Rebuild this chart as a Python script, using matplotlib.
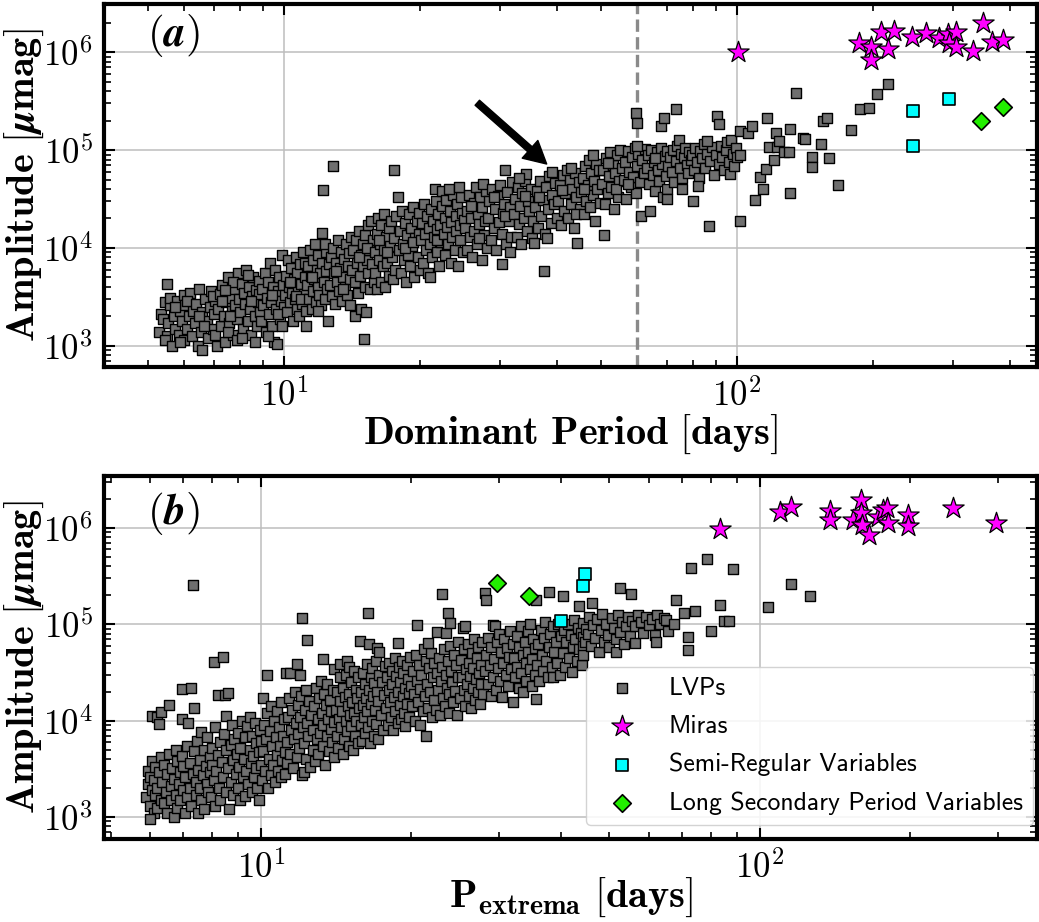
import numpy as np
import matplotlib
matplotlib.use("Agg")
import matplotlib.pyplot as plt
from matplotlib.ticker import FuncFormatter, NullFormatter, LogLocator

plt.rcParams['mathtext.fontset'] = 'cm'
plt.rcParams['font.family'] = 'cmr10'
plt.rcParams['axes.unicode_minus'] = False

# ---- panel (a): dominant period [days], amplitude [umag] ----
lvp_a = [
    (5.3,1400),(5.35,2100),(5.4,1900),(5.45,2800),(5.5,4300),(5.5,1250),(5.55,1700),(5.6,2600),(5.45,1150),(5.6,3100),
    (5.65,1000),(5.7,2000),(5.75,1500),(5.8,2900),(5.85,1300),(5.9,2300),(5.95,1800),(6.0,3300),(6.0,1150),(6.05,2600),
    (6.1,1500),(6.15,2000),(6.2,3500),(6.25,1250),(6.3,2300),(5.75,2500),(5.9,1100),(6.1,2900),
    (6.35,1700),(6.4,2700),(6.45,1000),(6.5,3800),(6.55,1400),(6.6,2200),(6.6,900),(6.7,3000),(6.75,1800),(6.8,1200),
    (6.85,2500),(6.9,3600),(6.95,1500),(7.0,2100),(7.05,2900),(7.1,1000),(6.5,2000),(6.65,1600),(6.95,3200),(7.05,1300),
    (7.15,2400),(7.2,3400),(7.25,1600),(7.3,4200),(7.35,2000),(7.4,1100),(7.45,2800),(7.5,5000),(7.55,1700),(7.6,3100),
    (7.65,2300),(7.7,1300),(7.75,3800),(7.8,2600),(7.85,1900),(7.9,5600),(7.3,2900),(7.5,1400),(7.7,4500),(7.85,1150),
    (7.4,3700),(7.6,2000),
    (7.95,3000),(8.0,2200),(8.05,4300),(8.1,1500),(8.15,3500),(8.2,2700),(8.25,6000),(8.3,1800),(8.35,4000),(8.4,2400),
    (8.45,1300),(8.5,3200),(8.55,5000),(8.6,2000),(8.65,3700),(8.7,1600),(8.75,2800),(8.8,4600),(8.85,2200),(8.05,1200),
    (8.3,5300),(8.6,1100),(8.8,3400),(8.45,2900),
    (8.9,1800),(8.95,3800),(9.0,2600),(9.05,5500),(9.1,1400),(9.15,3100),(9.2,4500),(9.25,2100),(9.3,7000),(9.35,2800),
    (9.4,1600),(9.45,4000),(9.5,1100),(9.5,3300),(9.55,6000),(9.6,2400),(9.65,1050),(9.7,3600),(9.75,5000),(9.8,1900),
    (9.85,2900),(9.9,8500),(9.95,4200),(10.0,2500),(9.2,1250),(9.4,3300),(9.7,2100),(9.9,1600),
    (10.05,3300),(10.1,5200),(10.15,2200),(10.2,7500),(10.25,4000),(10.3,2800),(10.35,6200),(10.4,3500),(10.45,1800),
    (10.5,4800),(10.55,3000),(10.6,8000),(10.65,2400),(10.7,5600),(10.75,3800),(10.8,2000),(10.85,6800),(10.9,4300),
    (10.95,2700),(11.0,9000),(11.05,3400),(11.1,5000),(11.15,2300),(11.2,1600),(10.3,4500),(10.6,3200),(10.9,3000),(11.1,7000),
    (11.25,4200),(11.3,6500),(11.35,3000),(11.4,9500),(11.45,5200),(11.5,2400),(11.55,7600),(11.6,3600),(11.65,4800),
    (11.7,11000),(11.75,2800),(11.8,6000),(11.85,4000),(11.9,8500),(11.95,3300),(12.0,5500),(12.05,2600),(12.1,14200),
    (12.15,7000),(12.2,39000),(12.25,4500),(12.3,3000),(12.35,9000),(12.4,5800),(12.45,3800),(12.5,1800),(12.55,6800),
    (11.5,5000),(11.9,2300),(12.3,11000),(12.8,68000),
    (12.65,4200),(12.7,8000),(12.75,3200),(12.85,10000),(12.9,5500),(12.95,2700),(13.0,7000),(13.1,4500),(13.15,12000),
    (13.2,3600),(13.3,6200),(13.35,9000),(13.4,2900),(13.5,5000),(13.55,7800),(13.6,4000),(13.7,11000),(13.75,3300),
    (13.8,6500),(13.9,8800),(13.95,4800),(14.0,2600),(14.05,13000),(13.0,5800),(13.5,3800),
    (14.15,6000),(14.2,9500),(14.3,2000),(14.35,4500),(14.4,12000),(14.5,7000),(14.55,3500),(14.6,15000),(14.7,5200),
    (14.75,8500),(14.8,2400),(14.9,11000),(14.95,6500),(15.0,1180),(15.05,4000),(15.1,13500),(15.15,2200),(15.2,7500),
    (15.3,17000),(15.35,5500),(15.4,9500),(15.5,3800),(15.55,19000),(15.6,6800),(15.7,12000),(15.75,4500),(14.6,8000),(15.2,10000),
    (15.85,9000),(15.9,5500),(16.0,14000),(16.05,3800),(16.1,20000),(16.2,7500),(16.3,11000),(16.35,4500),(16.4,17000),
    (16.5,6500),(16.6,9500),(16.65,22000),(16.7,4000),(16.8,13000),(16.9,7000),(17.0,16000),(17.05,5200),(17.1,10500),
    (17.2,19000),(17.3,8000),(17.4,4800),(17.5,62000),(17.5,12500),(17.6,6000),(17.7,21000),(17.8,33000),(16.2,12000),(16.9,9000),
    (17.9,9500),(18.0,15000),(18.1,5500),(18.2,24000),(18.3,11000),(18.4,7500),(18.5,18000),(18.6,4500),(18.7,13500),
    (18.8,8500),(18.9,22000),(19.0,6500),(19.1,16000),(19.2,10500),(19.3,26000),(19.4,5000),(19.5,12500),(19.6,19000),
    (19.7,8000),(19.8,14000),(19.9,23000),(20.0,6000),(18.5,10000),(19.3,11500),
    (20.1,12000),(20.2,18000),(20.3,7000),(20.4,28000),(20.5,14000),(20.6,9500),(20.7,21000),(20.8,5500),(20.9,16000),
    (21.0,11000),(21.1,25000),(21.2,8000),(21.3,19000),(21.4,13000),(21.5,40000),(21.6,30000),(21.7,9000),(21.8,15500),
    (21.9,22000),(22.0,6500),(22.1,17000),(22.2,11500),(22.3,27000),(22.35,38000),(21.0,5000),(21.8,12000),
    (22.5,14000),(22.6,20000),(22.7,8500),(22.8,31000),(22.9,16500),(23.0,11000),(23.2,24000),(23.3,7000),(23.4,18500),
    (23.5,13000),(23.6,35000),(23.8,9500),(23.9,21000),(24.0,15000),(24.1,28000),(24.2,6500),(24.4,17000),(24.5,12000),
    (24.6,33000),(24.7,23000),(24.8,9000),(24.9,19500),(23.1,40000),(24.3,42000),
    (25.1,16000),(25.3,24000),(25.4,9500),(25.6,35000),(25.7,13000),(25.9,20000),(26.0,8000),(26.2,29000),(26.3,15000),
    (26.5,42000),(26.6,11000),(26.8,22000),(27.0,17500),(27.1,33000),(27.3,7500),(27.4,26000),(27.6,13500),(27.7,19000),
    (27.9,38000),(28.0,10000),(25.8,27000),(26.9,12500),(27.5,45000),
    (28.2,20000),(28.4,30000),(28.6,12000),(28.8,40000),(29.0,16000),(29.2,25000),(29.4,9500),(29.6,34000),(29.8,18500),
    (30.0,44000),(30.2,14000),(30.3,6900),(30.4,23000),(30.6,28000),(30.7,62000),(30.9,11000),(31.1,37000),(31.3,19000),
    (31.5,26000),(31.7,13000),(31.9,47000),(29.0,33000),(30.8,21000),(31.6,9000),
    (32.2,22000),(32.4,32000),(32.6,13000),(32.8,42000),(33.0,17500),(33.2,27000),(33.4,11000),(33.6,36000),(33.8,20000),
    (34.0,48000),(34.2,57000),(34.4,15000),(34.6,30000),(34.8,24000),(35.0,40000),(35.2,12500),(35.4,19000),(35.6,11300),
    (33.0,52000),(34.0,34000),
    (35.8,26000),(36.1,38000),(36.4,16000),(36.7,48000),(37.0,21000),(37.3,31000),(37.5,5800),(37.6,14000),(37.9,42000),
    (38.2,25000),(38.5,54000),(38.8,18000),(39.1,35000),(39.4,28000),(39.7,46000),(40.0,20000),(36.5,33000),(38.0,12500),(39.0,60000),
    (40.3,30000),(40.6,44000),(40.9,17000),(41.2,55000),(41.5,24000),(41.8,36000),(42.1,62000),(42.4,20000),(42.7,50000),
    (43.0,28000),(43.3,40000),(43.6,16000),(43.9,58000),(44.2,33000),(44.4,11200),(44.7,47000),(45.0,25000),(41.0,39000),
    (43.0,65000),(44.0,22000),
    (45.3,37000),(45.6,52000),(45.9,22000),(46.2,68000),(46.5,30000),(46.8,44000),(47.1,80000),(47.4,26000),(47.7,58000),
    (48.0,35000),(48.3,48000),(48.6,19000),(48.9,72000),(49.2,40000),(49.5,62000),(49.8,29000),(46.0,40000),(48.0,90000),
    (50.3,45000),(50.6,62000),(50.8,13700),(51.1,28000),(51.4,82000),(51.8,36000),(52.1,54000),(52.5,95000),(52.8,42000),
    (53.2,70000),(53.5,25000),(53.9,58000),(54.2,88000),(54.6,33000),(55.0,48000),(55.3,100000),(55.7,65000),(52.0,74000),(54.0,40000),
    (56.2,50000),(56.6,75000),(57.0,32000),(57.4,98000),(57.8,60000),(58.2,42000),(58.6,85000),(59.0,53000),(59.4,105000),
    (59.7,240000),(60.3,190000),(59.8,36000),(60.2,68000),(60.6,92000),(61.0,47000),(61.4,21000),(61.8,80000),(62.2,58000),
    (62.6,102000),(57.5,45000),(60.0,110000),
    (63.2,66000),(63.6,88000),(64.0,45000),(64.3,24000),(64.7,100000),(65.2,55000),(65.6,76000),(66.0,38000),(66.5,95000),
    (67.0,62000),(67.4,48000),(67.8,105000),(68.0,174000),(68.3,72000),(68.7,33000),(69.0,210000),(69.2,86000),(69.7,54000),
    (70.2,98000),(70.6,68000),(66.0,82000),(70.0,40000),
    (71.2,85000),(71.7,60000),(72.2,100000),(72.7,47000),(73.2,78000),(73.5,260000),(73.8,110000),(74.3,128000),(74.7,66000),
    (75.2,92000),(75.8,52000),(76.3,84000),(76.9,104000),(77.4,70000),(78.0,58000),(78.5,96000),(79.0,80000),(79.8,30000),
    (70.0,32000),(75.5,40000),
    (79.5,90000),(80.2,62000),(80.9,105000),(81.6,75000),(82.3,52000),(83.0,98000),(83.8,82000),(84.5,115000),(85.2,66000),
    (86.0,92000),(86.7,16600),(87.4,78000),(88.2,108000),(89.0,56000),(82.0,43000),(85.8,125000),
    (89.8,90000),(90.5,220000),(91.5,185000),(91.2,72000),(92.0,110000),(92.8,84000),(93.6,62000),(94.4,100000),(95.2,120000),
    (96.0,76000),(96.6,57500),(97.0,126000),(97.8,92000),(98.6,68000),(99.4,105000),(100.2,85000),
    (101.7,19000),(101.5,88000),(101.7,158000),(106,150000),(108,178000),(109.7,31000),(114,40000),(112.6,53000),(116,64600),
    (120.5,78500),(117.5,107000),(122.5,107000),(126.8,95000),(130,95000),(116.5,210000),(122,149000),(124,124000),(131,163000),
    (131,36000),(140,132000),(141,130000),(135,380000),(146.6,85000),(146.6,67000),(153.4,114000),(155,200000),(158,210000),
    (159.6,83000),(166.8,43600),(178.6,162000),(186.6,260000),(196,270000),(203.7,376000),(215.8,475000),
]
mira_a = [(100.3,1.0e6),(186,1.23e6),(198,1.13e6),(198,8.4e5),(208,1.59e6),(222.6,1.64e6),(215.6,1.07e6),
          (244,1.43e6),(261.5,1.55e6),(280,1.38e6),(292.5,1.52e6),(305,1.61e6),(293.5,1.23e6),(305,1.13e6),
          (333,1.03e6),(349,1.99e6),(366,1.27e6),(387,1.33e6)]
srv_a = [(244.8,2.5e5),(293.5,3.31e5),(244.8,1.1e5)]
lsp_a = [(346.5,1.99e5),(386,2.73e5)]

# ---- panel (b): P_extrema [days], amplitude [umag] ----
lvp_b = [
    (5.9,1600),(5.95,2200),(5.95,3000),(6.0,1300),(6.0,2600),(6.05,1900),(6.05,3800),(6.1,1100),(6.1,2400),(6.15,1700),
    (6.15,3300),(6.2,2000),(6.2,1250),(6.25,2900),(6.3,1500),(6.3,4200),(6.04,11200),(6.2,11000),(6.25,9300),(6.3,12300),(6.0,950),
    (6.35,2300),(6.4,1400),(6.4,3500),(6.45,1800),(6.5,2800),(6.5,1100),(6.55,4500),(6.55,14500),(6.6,2100),(6.6,1500),
    (6.65,3200),(6.7,1000),(6.7,2500),(6.75,5000),(6.75,1700),(6.8,3800),(6.8,1250),(6.85,2200),(6.9,2900),(6.9,1500),
    (6.95,4300),(6.95,21500),(6.95,10500),(7.0,1900),(7.0,3400),(7.05,1100),(7.05,2600),(7.1,5500),(7.1,1600),
    (7.15,9500),(7.2,2000),(7.2,3600),(7.24,22000),(7.25,1300),(7.3,256000),(7.3,2800),(7.35,13600),(7.35,4800),(7.4,1700),
    (7.4,2300),(7.45,6200),(7.5,3100),(7.5,1100),(7.55,3900),(7.55,2000),(7.6,7600),(7.6,1500),(7.65,2700),(7.7,5000),
    (7.7,1200),(7.75,3400),(7.8,2200),(7.8,6800),(7.85,1800),(7.9,4200),(7.9,2900),
    (7.95,1600),(8.0,3500),(8.0,5200),(8.05,2400),(8.07,41000),(8.1,1300),(8.1,8500),(8.15,3000),(8.2,18600),(8.2,4400),
    (8.25,2000),(8.3,6000),(8.3,1500),(8.35,3700),(8.4,46000),(8.4,2600),(8.45,7200),(8.47,18600),(8.5,1800),(8.5,4900),
    (8.53,11200),(8.6,19500),(8.6,3200),(8.65,1200),(8.7,5600),(8.7,2300),(8.75,9000),(8.8,3900),(8.8,1700),(8.85,6500),(8.9,2800),
    (8.95,4500),(9.0,2000),(9.0,7500),(9.05,3300),(9.1,1500),(9.1,5200),(9.15,10000),(9.2,2600),(9.25,4000),(9.3,1650),
    (9.3,6800),(9.35,3000),(9.4,8800),(9.45,2200),(9.5,5000),(9.5,11000),(9.55,3600),(9.6,1800),(9.6,7000),(9.65,4300),
    (9.7,2600),(9.75,9500),(9.8,3200),(9.8,5800),(9.85,2000),(9.9,1500),(9.9,4700),(9.95,8000),(10.0,3500),(10.0,6200),
    (10.05,2400),(10.1,17000),(10.1,4800),(10.15,9000),(10.2,3000),(10.25,6500),(10.3,30000),(10.3,12000),(10.35,2000),
    (10.4,4000),(10.45,7800),(10.5,2700),(10.5,14000),(10.55,5400),(10.6,3500),(10.65,10000),(10.7,2300),(10.75,6800),
    (10.8,4400),(10.8,12500),(10.85,3000),(10.9,8500),(10.95,5500),(11.0,2600),(11.0,15500),(11.05,3900),(11.1,7000),
    (11.15,10500),(11.2,4700),(11.2,2800),
    (11.25,31000),(11.3,6000),(11.3,3600),(11.35,11000),(11.4,17000),(11.45,31000),(11.45,4500),(11.5,8000),(11.55,13000),
    (11.6,3200),(11.65,6500),(11.7,20000),(11.75,9500),(11.8,39000),(11.8,4200),(11.85,14500),(11.9,7200),(11.95,5200),
    (12.0,29500),(12.0,11000),(12.05,18000),(12.1,115000),(12.1,2700),(12.15,8500),(12.2,2950),(12.2,5800),(12.25,13000),
    (12.3,21000),(12.35,4000),(12.4,68000),(12.4,9500),(12.45,7000),(12.5,16000),(12.55,3300),(12.6,11500),
    (12.7,5000),(12.75,8000),(12.8,14000),(12.85,3800),(12.9,22000),(12.95,6500),(13.0,10500),(13.05,4500),(13.1,17000),
    (13.15,7500),(13.2,26000),(13.25,12000),(13.3,44000),(13.3,5500),(13.35,9000),(13.4,19000),(13.45,3500),(13.5,14500),
    (13.55,7000),(13.6,24000),(13.65,10500),(13.7,4800),(13.75,16500),(13.8,8200),(13.85,12500),(13.9,6000),(13.95,21000),
    (14.0,34000),(14.0,9600),(14.05,4200),
    (14.15,13000),(14.2,7000),(14.25,20000),(14.3,5200),(14.35,10500),(14.4,39000),(14.4,16000),(14.45,28000),(14.5,8500),
    (14.55,12500),(14.6,4500),(14.65,22000),(14.7,6500),(14.75,17500),(14.8,10000),(14.85,30000),(14.9,42000),(14.9,7800),
    (14.95,14000),(15.0,36000),(15.0,5500),(15.05,19000),(15.1,11500),(15.15,25000),(15.2,8800),(15.25,15500),(15.3,4900),
    (15.35,33000),(15.4,12000),(15.45,7000),(15.5,21000),(15.55,9800),(15.6,17000),(15.65,28000),(15.7,5800),(15.75,13500),
    (15.8,67000),(15.85,9000),(15.9,20000),(15.95,6200),(16.0,14500),(16.05,31000),(16.1,11000),(16.15,24000),(16.2,7500),
    (16.25,17000),(16.3,39000),(16.35,12500),(16.4,130000),(16.4,8500),(16.5,63000),(16.5,21000),(16.55,5800),(16.6,15000),
    (16.65,28000),(16.7,10000),(16.75,35000),(16.8,18000),(16.85,7000),(16.9,24500),(16.95,13000),(17.0,42000),(17.05,9200),
    (17.1,56000),(17.1,20000),(17.15,16000),(17.2,6500),(17.3,51000),(17.3,30000),(17.4,11500),(17.5,25000),(17.6,8000),
    (17.7,18500),(17.75,37000),
    (17.85,13500),(17.9,28000),(18.0,9000),(18.05,21000),(18.1,40000),(18.2,15500),(18.25,11000),(18.3,33000),(18.35,24000),
    (18.4,8000),(18.5,17500),(18.55,45000),(18.6,12500),(18.7,29000),(18.8,64000),(18.8,9500),(18.85,20000),(18.9,36000),
    (19.0,14500),(19.05,25000),(19.1,10500),(19.2,42000),(19.25,18000),(19.3,31000),(19.4,12000),(19.45,22000),(19.5,8700),
    (19.6,38000),(19.65,15000),(19.7,27000),(19.8,19500),(19.85,11000),(19.9,46000),(20.0,23000),
    (20.1,14000),(20.2,33000),(20.3,19000),(20.4,10000),(20.5,48000),(20.55,26000),(20.6,98000),(20.7,15500),(20.8,38000),
    (20.9,9100),(20.9,21500),(21.0,30000),(21.1,12500),(21.2,55000),(21.3,18000),(21.4,6900),(21.4,42000),(21.5,24000),
    (21.6,13500),(21.7,35000),(21.8,20000),(21.9,50000),(22.0,11000),(22.1,28000),(22.2,16500),(22.3,40000),
    (21.6,64500),(22.6,84000),(22.5,13000),(22.6,31000),(22.7,21000),(22.8,45000),(22.9,11500),(23.0,26000),(23.1,205000),
    (23.1,36000),(23.2,17000),(23.3,55000),(23.4,14000),(23.5,82000),(23.5,30000),(23.6,22000),(23.7,130000),(23.7,42000),
    (23.8,12000),(23.9,19000),(24.0,102000),(24.0,60000),(24.1,33000),(24.2,25000),(24.3,15500),(24.4,48000),(24.5,20500),
    (24.6,38000),(24.7,11500),(24.8,28000),(24.9,65000),
    (25.1,17000),(25.2,43000),(25.3,28000),(25.4,91000),(25.5,21000),(25.6,55000),(25.7,95000),(25.7,14000),(25.8,34000),
    (25.9,24000),(26.0,62000),(26.1,18000),(26.2,40000),(26.3,29000),(26.4,13500),(26.5,50000),(26.6,22000),(26.7,35000),
    (26.8,70000),(26.9,16500),(27.0,27000),(27.1,45000),(27.2,20000),(27.3,58000),(27.4,31000),(27.5,15000),(27.6,38000),
    (27.7,24000),(27.8,66000),(27.9,19000),
    (28.1,33000),(28.2,210000),(28.3,180000),(28.3,48000),(28.5,24000),(28.6,72000),(28.8,38000),(28.9,18000),(29.0,58000),
    (29.2,98000),(29.2,28000),(29.4,44000),(29.5,96000),(29.6,21000),(29.7,65000),(29.9,35000),(30.0,80000),(30.2,26000),
    (30.3,52000),(30.5,17500),(30.6,40000),(30.8,70000),(31.0,30000),(31.1,56000),(31.3,23000),(31.5,46000),(31.6,85000),
    (31.8,34000),(32.0,62000),
    (32.1,15500),(32.2,45000),(32.4,28000),(32.6,75000),(32.7,36000),(32.9,22000),(33.0,58000),(33.2,95000),(33.3,31000),
    (33.5,48000),(33.6,20000),(33.8,66000),(34.0,40000),(34.1,26000),(34.3,85000),(34.4,52000),(34.6,34000),(34.7,100000),
    (34.9,23000),(35.0,44000),(35.2,70000),(35.4,30000),(35.6,16600),(35.5,56000),(35.6,180000),
    (35.8,38000),(36.0,62000),(36.2,26000),(36.4,88000),(36.6,48000),(36.8,33000),(37.0,72000),(37.2,105000),(37.4,42000),
    (37.6,28000),(37.8,214000),(37.8,58000),(38.0,80000),(38.3,36000),(38.6,28600),(38.6,95000),(38.8,52000),(39.0,66000),
    (39.3,40000),(39.5,100000),(39.8,30000),(40.0,75000),
    (40.4,197000),(40.3,50000),(40.6,88000),(40.8,36000),(41.0,65000),(41.3,100000),(41.5,45000),(41.8,78000),(42.0,32000),
    (42.2,58000),(42.5,110000),(42.7,70000),(43.0,42000),(43.2,92000),(43.4,155000),(43.5,55000),(43.8,82000),(44.0,38000),
    (44.2,102000),(44.2,74000),(44.2,59000),(44.2,48000),(44.6,66000),(44.9,90000),
    (45.3,80000),(45.6,120000),(46.1,165000),(46.0,60000),(46.4,98000),(46.8,72000),(47.2,112000),(47.6,52000),(48.0,88000),
    (48.4,128000),(48.8,66000),(49.2,100000),(49.6,78000),(50.0,58000),(50.5,115000),(51.0,92000),(51.5,51000),(51.5,70000),
    (52.0,125000),(52.6,235000),(52.5,84000),(53.0,105000),(53.5,62000),(54.0,96000),(54.5,118000),(55.3,205000),(55.0,76000),
    (55.6,108000),
    (56.4,64000),(56.2,95000),(57.0,125000),(57.8,105000),(58.5,82000),(59.3,118000),(60.0,98000),(60.8,112000),(61.6,78000),
    (62.0,66000),(62.4,125000),(63.3,100000),(64.2,116000),(65.0,110000),(65.5,85000),(67.3,100000),(68.0,178000),(70.4,130000),
    (72.0,74000),(72.0,54000),(73.0,380000),(74.2,137000),(78.4,480000),(80.0,85000),(83.2,160000),(84.7,108000),(87.0,108000),
    (88.5,370000),(104,150000),(115.6,260000),(126.5,196000),
]
mira_b = [(83.2,9.7e5),(109.7,1.47e6),(115.6,1.65e6),(138.6,1.5e6),(138.6,1.2e6),(153.8,1.2e6),(159.8,1.94e6),
          (159.8,1.41e6),(160.5,1.07e6),(166,8.4e5),(173,1.3e6),(177,1.52e6),(179.9,1.59e6),(181,1.11e6),
          (198.8,1.35e6),(198,1.04e6),(244.7,1.59e6),(297.9,1.11e6)]
srv_b = [(44.6,3.31e5),(44.3,2.49e5),(40.0,1.09e5)]
lsp_b = [(29.7,2.66e5),(34.5,1.96e5)]

labels = ['LVPs', 'Miras', 'Semi-Regular Variables', 'Long Secondary Period Variables']


def decade(v, pos):
    e = np.log10(v)
    if abs(e - round(e)) < 1e-6:
        return r'$10^{%d}$' % round(e)
    return ''


def panel(ax, lvp, mira, srv, lsp, xlim, ylim):
    lvp = np.array(lvp); mira = np.array(mira); srv = np.array(srv); lsp = np.array(lsp)
    ax.scatter(lvp[:, 0], lvp[:, 1], s=42, marker='s', c='#6f6f6f', edgecolors='k', linewidths=1.0,
               zorder=3, label=labels[0])
    ax.scatter(mira[:, 0], mira[:, 1], s=260, marker='*', c='#ff00ff', edgecolors='k', linewidths=0.9,
               zorder=4, label=labels[1])
    ax.scatter(srv[:, 0], srv[:, 1], s=80, marker='s', c='#00ffff', edgecolors='k', linewidths=1.2,
               zorder=4, label=labels[2])
    ax.scatter(lsp[:, 0], lsp[:, 1], s=80, marker='D', c='#22ee00', edgecolors='k', linewidths=1.2,
               zorder=4, label=labels[3])
    ax.set_xscale('log')
    ax.set_yscale('log')
    ax.set_xlim(*xlim)
    ax.set_ylim(*ylim)
    ax.xaxis.set_major_formatter(FuncFormatter(decade))
    ax.yaxis.set_major_formatter(FuncFormatter(decade))
    ax.xaxis.set_minor_formatter(NullFormatter())
    ax.yaxis.set_minor_formatter(NullFormatter())
    ax.yaxis.set_minor_locator(LogLocator(base=10, subs=np.arange(2, 10), numticks=20))
    ax.grid(True, which='major', color='#bdbdbd', linewidth=1.1)
    ax.set_axisbelow(True)
    ax.tick_params(which='both', direction='in', top=True, right=True, labelsize=25, pad=8)
    ax.tick_params(which='major', length=8, width=1.5)
    ax.tick_params(which='minor', length=5, width=1.2)
    for sp in ax.spines.values():
        sp.set_linewidth(3)
    ax.set_ylabel(r'$\mathbf{Amplitude\ [}\boldsymbol{\mu}\mathbf{mag]}$', fontsize=29)
    ax.yaxis.set_label_coords(-0.062, 0.5)


fig = plt.figure(figsize=(10.39, 9.22), dpi=100)
ax1 = fig.add_axes([0.1001, 0.6020, 0.8980, 0.3937])
ax2 = fig.add_axes([0.1001, 0.0900, 0.8980, 0.3937])

panel(ax1, lvp_a, mira_a, srv_a, lsp_a, (4.0, 460), (610, 3.1e6))
panel(ax2, lvp_b, mira_b, srv_b, lsp_b, (4.85, 360), (590, 3.45e6))

ax1.axvline(60, color='#8a8a8a', linestyle='--', linewidth=2.4, zorder=2)
ax1.annotate('', xy=(38.0, 7.2e4), xytext=(26.7, 3.04e5),
             arrowprops=dict(facecolor='black', edgecolor='black', width=4.8, headwidth=17, headlength=16, shrink=0))

ax1.set_xlabel(r'$\mathbf{Dominant\ Period\ [days]}$', fontsize=29)
ax1.xaxis.set_label_coords(0.5, -0.127)
ax2.set_xlabel(r'$\mathbf{P_{extrema}\ [days]}$', fontsize=29)
ax2.xaxis.set_label_coords(0.5, -0.100)

ax1.text(0.046, 0.978, r'$(\boldsymbol{a})$', transform=ax1.transAxes, fontsize=31, va='top', ha='left')
ax2.text(0.046, 0.962, r'$(\boldsymbol{b})$', transform=ax2.transAxes, fontsize=31, va='top', ha='left')

ax2.legend(loc='lower right', bbox_to_anchor=(0.9957, 0.0386), borderaxespad=0,
           prop={'family': 'cmss10', 'size': 18.5}, handletextpad=0.83, handlelength=2.0, borderpad=0.4,
           labelspacing=0.58, framealpha=0.85)

fig.savefig('out.png', dpi=100)
